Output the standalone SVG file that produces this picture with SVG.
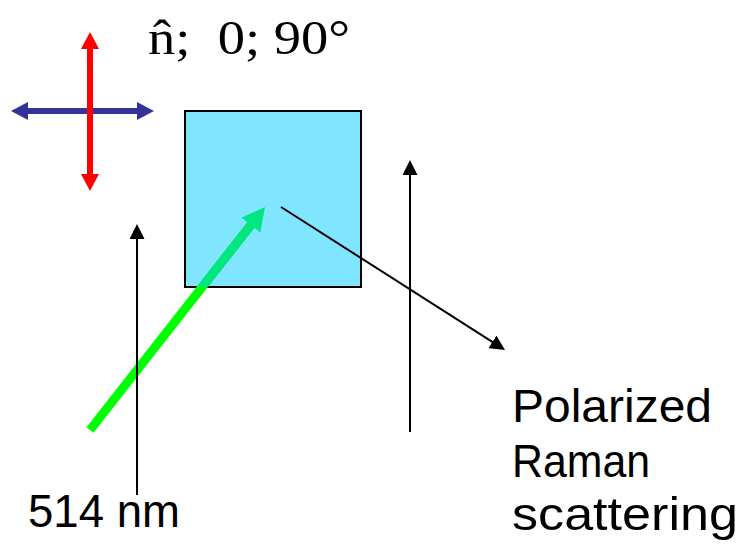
<svg xmlns="http://www.w3.org/2000/svg" width="744" height="548" viewBox="0 0 744 548">
  <style>
    .lbl { font-family: "Liberation Sans", "DejaVu Sans", sans-serif; font-size: 46px; fill: #000; }
    .title { font-family: "Liberation Serif", "DejaVu Serif", serif; font-size: 48px; fill: #000; }
    .thin { stroke: #000; stroke-width: 2; fill: none; }
  </style>
  <defs>
    <marker id="blk" markerUnits="userSpaceOnUse" markerWidth="15" markerHeight="15" refX="5" refY="7.5" orient="auto">
      <path d="M0,0 L15,7.5 L0,15 z" fill="#000"/>
    </marker>
    <marker id="red" markerUnits="userSpaceOnUse" markerWidth="17" markerHeight="18" refX="7" refY="9" orient="auto-start-reverse">
      <path d="M0,0 L17,9 L0,18 z" fill="#FF0000"/>
    </marker>
    <marker id="blue" markerUnits="userSpaceOnUse" markerWidth="17" markerHeight="18" refX="7" refY="9" orient="auto-start-reverse">
      <path d="M0,0 L17,9 L0,18 z" fill="#333399"/>
    </marker>
    <marker id="grn" markerUnits="userSpaceOnUse" markerWidth="23" markerHeight="24" refX="10" refY="12" orient="auto">
      <path d="M0,0 L23,12 L0,24 z" fill="#00E680"/>
    </marker>
    <clipPath id="sampleClip">
      <rect x="185" y="111" width="176" height="176"/>
    </clipPath>
  </defs>

  <g id="polarization">
    <line x1="21" y1="111" x2="144" y2="111" stroke="#333399" stroke-width="6" marker-start="url(#blue)" marker-end="url(#blue)"/>
    <line x1="90" y1="42" x2="90" y2="181" stroke="#FF0000" stroke-width="6" marker-start="url(#red)" marker-end="url(#red)"/>
  </g>

  <g id="title">
    <text class="title" x="148" y="54" textLength="202" lengthAdjust="spacingAndGlyphs" xml:space="preserve">n̂;  0; 90°</text>
  </g>

  <g id="sample">
    <rect x="185" y="111" width="176" height="176" fill="#80E6FF" stroke="#000" stroke-width="2"/>
  </g>

  <g id="connectors">
    <line x1="90" y1="430" x2="257" y2="217.2" stroke="#00FF00" stroke-width="9" marker-end="url(#grn)"/>
    <g clip-path="url(#sampleClip)">
      <line x1="90" y1="430" x2="257" y2="217.2" stroke="#00E680" stroke-width="9"/>
    </g>
    <line class="thin" x1="137" y1="495" x2="137" y2="234" marker-end="url(#blk)"/>
    <line class="thin" x1="410" y1="432" x2="410" y2="170" marker-end="url(#blk)"/>
    <line class="thin" x1="281" y1="207" x2="496.6" y2="344.6" marker-end="url(#blk)"/>
  </g>

  <g id="label-laser">
    <text class="lbl" x="28" y="527" textLength="152" lengthAdjust="spacingAndGlyphs">514 nm</text>
  </g>

  <g id="label-raman">
    <text class="lbl" x="512" y="422" textLength="200" lengthAdjust="spacingAndGlyphs">Polarized</text>
    <text class="lbl" x="512" y="477" textLength="138" lengthAdjust="spacingAndGlyphs">Raman</text>
    <text class="lbl" x="512" y="530" textLength="226" lengthAdjust="spacingAndGlyphs">scattering</text>
  </g>
</svg>
